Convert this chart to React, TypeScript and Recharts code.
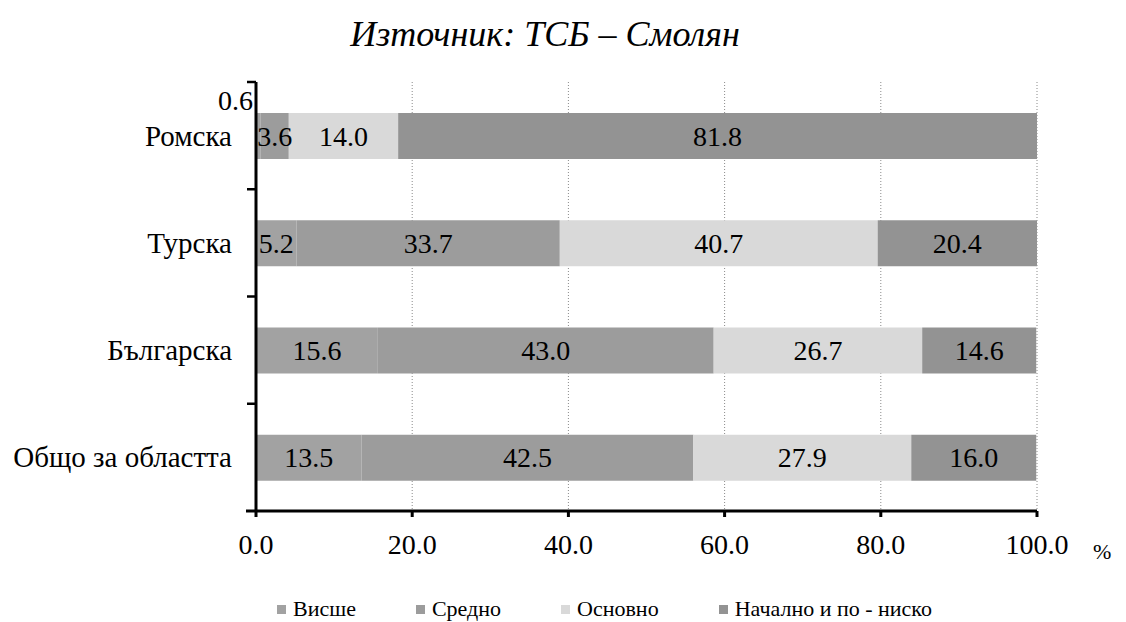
import React from "react";
import { BarChart, Bar, XAxis, YAxis, CartesianGrid, LabelList, Legend } from "recharts";

const categories = ["Ромска", "Турска", "Българска", "Общо за областта"];
const higher = [0.6, 5.2, 15.6, 13.5];
const secondary = [3.6, 33.7, 43.0, 42.5];
const basic = [14.0, 40.7, 26.7, 27.9];
const primary = [81.8, 20.4, 14.6, 16.0];
const xTicks = [0, 20, 40, 60, 80, 100];

const series = [
  { key: "higher", name: "Висше", color: "#a2a2a2" },
  { key: "secondary", name: "Средно", color: "#9c9c9c" },
  { key: "basic", name: "Основно", color: "#d9d9d9" },
  { key: "primary", name: "Начално и по - ниско", color: "#939393" },
];

const data = categories.map((name, i) => ({
  name,
  higher: higher[i],
  secondary: secondary[i],
  basic: basic[i],
  primary: primary[i],
}));

const W = 1126;
const H = 622;
const TOP = 82;
const AXIS_X = 256;
const PLOT_BOTTOM = 511;
const BAND = (PLOT_BOTTOM - TOP) / categories.length;
const FONT = "Liberation Serif, DejaVu Serif, serif";

// category tick: label at the band centre, tick marks at band boundaries
const CategoryTick = (props: any) => {
  const { y, payload, index } = props;
  const half = BAND / 2;
  return (
    <g>
      <line x1={AXIS_X - 9} x2={AXIS_X} y1={y - half} y2={y - half} stroke="#000" strokeWidth={2.5} />
      {index === categories.length - 1 && (
        <line x1={AXIS_X - 10} x2={AXIS_X} y1={y + half} y2={y + half} stroke="#000" strokeWidth={3} />
      )}
      <text x={AXIS_X - 24} y={y} textAnchor="end" dominantBaseline="central" fontFamily={FONT} fontSize={29} fill="#000">
        {payload.value}
      </text>
    </g>
  );
};

const fmt = (v: any) => Number(v).toFixed(1);

const SegmentLabel = (props: any) => {
  const { x, y, width, height, value } = props;
  if (value == null) return null;
  if (width < 12) {
    return (
      <text x={x - 3} y={y - 3} textAnchor="end" fontFamily={FONT} fontSize={28} fill="#000">
        {fmt(value)}
      </text>
    );
  }
  return (
    <text x={x + width / 2} y={y + height / 2} textAnchor="middle" dominantBaseline="central" fontFamily={FONT} fontSize={28} fill="#000">
      {fmt(value)}
    </text>
  );
};

const LegendContent = () => (
  <div style={{ display: "flex", justifyContent: "flex-start", paddingLeft: 277, fontFamily: FONT, fontSize: 22, lineHeight: "24px" }}>
    {series.map((s) => (
      <div key={s.key} style={{ display: "flex", alignItems: "center", marginRight: 60 }}>
        <span style={{ display: "inline-block", width: 9, height: 9, background: s.color, marginRight: 7 }} />
        <span>{s.name}</span>
      </div>
    ))}
  </div>
);

export default function App() {
  return (
    <div style={{ position: "relative", width: W, height: H, margin: "-8px -8px 0 -8px", background: "#fff" }}>
      <div
        style={{
          position: "absolute",
          top: 13,
          left: 545,
          transform: "translateX(-50%)",
          fontFamily: FONT,
          fontStyle: "italic",
          fontSize: 36,
          whiteSpace: "nowrap",
        }}
      >
        Източник: ТСБ – Смолян
      </div>
      <div style={{ position: "absolute", top: 539, left: 1093, fontFamily: FONT, fontSize: 22 }}>%</div>
      <BarChart
        width={W}
        height={H}
        data={data}
        layout="vertical"
        margin={{ top: TOP, right: W - 1037, left: 0, bottom: 47 }}
        barSize={46}
      >
        <CartesianGrid horizontal={false} strokeDasharray="1 2" stroke="#8a8a8a" />
        <XAxis
          type="number"
          domain={[0, 100]}
          ticks={xTicks}
          tickFormatter={fmt}
          height={40}
          axisLine={{ stroke: "#000", strokeWidth: 3 }}
          tickLine={{ stroke: "#000", strokeWidth: 3 }}
          tickSize={6}
          tickMargin={17}
          tick={{ fontFamily: FONT, fontSize: 28, fill: "#000" }}
        />
        <YAxis
          type="category"
          dataKey="name"
          width={AXIS_X}
          axisLine={{ stroke: "#000", strokeWidth: 3 }}
          tickLine={false}
          tick={<CategoryTick />}
          interval={0}
        />
        {series.map((s) => (
          <Bar key={s.key} dataKey={s.key} name={s.name} stackId="a" fill={s.color} isAnimationActive={false}>
            <LabelList dataKey={s.key} content={<SegmentLabel />} />
          </Bar>
        ))}
        <Legend verticalAlign="bottom" content={<LegendContent />} wrapperStyle={{ top: 597, bottom: "auto" }} />
      </BarChart>
    </div>
  );
}
